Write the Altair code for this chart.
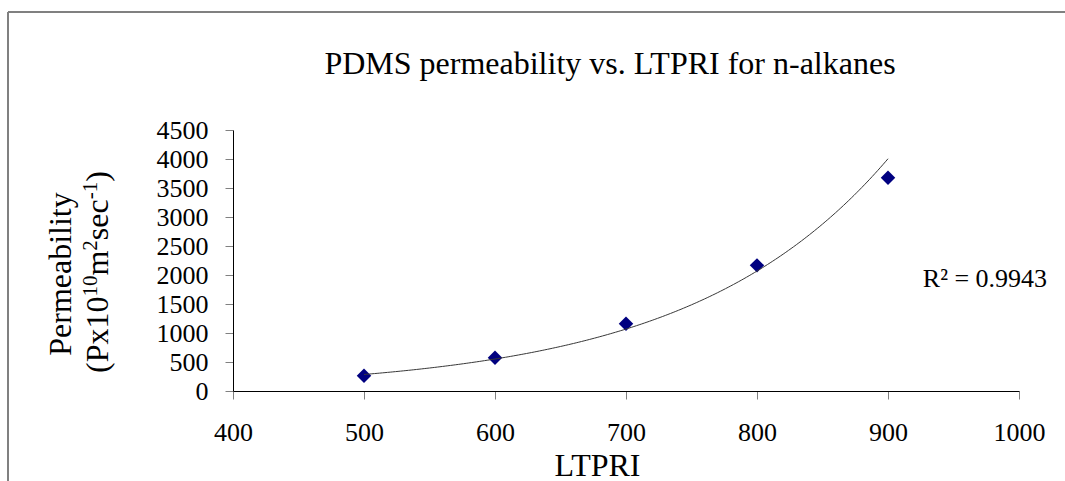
import altair as alt
import pandas as pd

# ---- data ----
ltpri = [500, 600, 700, 800, 900]
permeability = [263, 572, 1160, 2166, 3678]

x_tick_values = [400, 500, 600, 700, 800, 900, 1000]
y_tick_values = [0, 500, 1000, 1500, 2000, 2500, 3000, 3500, 4000, 4500]

r2_text = ["R\u00b2 = 0.9943"]
r2_x = [974]
r2_y = [1925]

title_text = "PDMS permeability vs. LTPRI for n-alkanes"
x_title = "LTPRI"
y_title_line1 = "Permeability"
y_title_pieces = ["(Px10", "10", "m", "2", "sec", "-1", ")"]
y_title_super = [False, True, False, True, False, True, False]

FONT = "Liberation Serif"
TITLE_SIZE = 32
SUP_SIZE = 21
LABEL_SIZE = 26

# Times / Liberation Serif advance widths (em units) used to place the pieces
GLYPH_W = {"(": 0.333, ")": 0.333, "P": 0.556, "x": 0.5, "m": 0.778, "s": 0.389,
           "e": 0.444, "c": 0.444, "-": 0.333}
for d in "0123456789":
    GLYPH_W[d] = 0.5


def text_width(s, size):
    return sum(GLYPH_W.get(ch, 0.5) for ch in s) * size


df = pd.DataFrame({"LTPRI": ltpri, "P": permeability})
df_r2 = pd.DataFrame({"x": r2_x, "y": r2_y, "t": r2_text})
df_one = pd.DataFrame({"k": [0]})

xscale = alt.Scale(domain=[400, 1000], nice=False, zero=False)
yscale = alt.Scale(domain=[0, 4500], nice=False)

x_axis = alt.Axis(
    values=x_tick_values, title=x_title, grid=False, format="d",
    labelFont=FONT, labelFontSize=LABEL_SIZE, labelColor="black",
    labelBaseline="alphabetic", labelPadding=41,
    labelFlush=False, labelOverlap=False,
    tickSize=8, tickColor="#808080", tickWidth=1,
    domainColor="black", domainWidth=1,
    titleFont=FONT, titleFontSize=TITLE_SIZE, titleFontWeight="normal", titleColor="black",
    titleX=364, titleY=84, titleAlign="center", titleBaseline="alphabetic",
)
y_axis = alt.Axis(
    values=y_tick_values, title=None, grid=False, format="d",
    labelFont=FONT, labelFontSize=LABEL_SIZE, labelColor="black", labelPadding=17,
    labelOverlap=False, labelFlush=False,
    tickSize=8, tickColor="#808080", tickWidth=1,
    domainColor="black", domainWidth=1,
)

points = alt.Chart(df).mark_point(
    shape="diamond", filled=True, size=210, color="#000080", opacity=1
).encode(
    x=alt.X("LTPRI:Q", scale=xscale, axis=x_axis),
    y=alt.Y("P:Q", scale=yscale, axis=y_axis),
)

# Excel-style exponential trendline (least squares on log(P)), computed by Vega transforms
trend = alt.Chart(df).transform_calculate(
    ly="log(datum.P)"
).transform_calculate(
    xly="datum.LTPRI * datum.ly"
).transform_calculate(
    x2="datum.LTPRI * datum.LTPRI"
).transform_joinaggregate(
    mx="mean(LTPRI)", mly="mean(ly)", mxly="mean(xly)", mx2="mean(x2)",
    xmin="min(LTPRI)", xmax="max(LTPRI)"
).transform_filter(
    "datum.LTPRI == datum.xmin"
).transform_calculate(
    b="(datum.mxly - datum.mx * datum.mly) / (datum.mx2 - datum.mx * datum.mx)"
).transform_calculate(
    a="datum.mly - datum.b * datum.mx"
).transform_calculate(
    xs="sequence(datum.xmin, datum.xmax + 0.5, 2)"
).transform_flatten(["xs"]).transform_calculate(
    yt="exp(datum.a + datum.b * datum.xs)"
).mark_line(color="#383838", strokeWidth=1).encode(
    x=alt.X("xs:Q", scale=xscale, axis=x_axis),
    y=alt.Y("yt:Q", scale=yscale, axis=y_axis),
)

r2 = alt.Chart(df_r2).mark_text(
    font=FONT, fontSize=LABEL_SIZE, color="black", align="center", baseline="middle"
).encode(
    x=alt.X("x:Q", scale=xscale, axis=x_axis),
    y=alt.Y("y:Q", scale=yscale, axis=y_axis),
    text="t:N",
)

# ---- chart title and y-axis title (pixel offsets from the plot area's top-left) ----
layers = [points, trend, r2]

layers.append(
    alt.Chart(df_one).mark_text(
        font=FONT, fontSize=TITLE_SIZE, color="black", align="center", baseline="alphabetic"
    ).encode(x=alt.value(377), y=alt.value(-56), text=alt.value(title_text))
)

layers.append(
    alt.Chart(df_one).mark_text(
        font=FONT, fontSize=TITLE_SIZE, color="black", align="center",
        baseline="alphabetic", angle=270
    ).encode(x=alt.value(-162), y=alt.value(144), text=alt.value(y_title_line1))
)

pos = 243.0  # start (bottom) of second title line
for piece, sup in zip(y_title_pieces, y_title_super):
    size = SUP_SIZE if sup else TITLE_SIZE
    bx = -136 if sup else -125
    layers.append(
        alt.Chart(df_one).mark_text(
            font=FONT, fontSize=size, color="black", align="left",
            baseline="alphabetic", angle=270
        ).encode(x=alt.value(bx), y=alt.value(round(pos, 1)), text=alt.value(piece))
    )
    pos -= text_width(piece, size)

# outer chart-area frame
layers.append(alt.Chart(df_one).mark_rule(color="#808080", strokeWidth=2).encode(
    x=alt.value(-225), x2=alt.value(840), y=alt.value(-118)
))
layers.append(alt.Chart(df_one).mark_rule(color="#808080", strokeWidth=2).encode(
    x=alt.value(-225), y=alt.value(-118), y2=alt.value(360)
))

chart = alt.layer(*layers).properties(
    width=786,
    height=261,
    autosize=alt.AutoSizeParams(type="none"),
    padding={"left": 233, "top": 130, "right": 46, "bottom": 90},
    background="white",
).configure_view(strokeWidth=0)

chart.save("out.html", embed_options={"renderer": "svg", "actions": False})
